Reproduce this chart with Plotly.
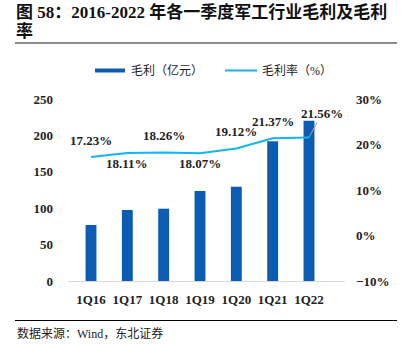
import plotly.graph_objects as go

categories = ["1Q16", "1Q17", "1Q18", "1Q19", "1Q20", "1Q21", "1Q22"]
gross_profit = [77, 97.5, 99.3, 123.6, 129.5, 192, 220]
gross_margin = [17.23, 18.11, 18.26, 18.07, 19.12, 21.37, 21.56]
label_pos = ["above", "below", "above", "below", "above", "above", "leader"]
series_names = ["毛利（亿元）", "毛利率（%）"]

W, H = 403, 344
L, R, T, B = 68, 58, 99, 63
PW, PH = W - L - R, H - T - B

def px(x):
    return (x - L) / PW

def py(y):
    return (H - B - y) / PH

BAR = "#0a5cb4"
LINE = "#13b5ef"
SERIF = "Times New Roman"
CJK = "Times New Roman, Noto Sans CJK SC"

fig = go.Figure()
fig.add_trace(go.Bar(x=categories, y=gross_profit, name=series_names[0], showlegend=False,
                     marker=dict(color=BAR, line=dict(width=0)), width=0.3, yaxis="y"))
fig.add_trace(go.Scatter(x=categories, y=gross_margin, name=series_names[1], showlegend=False,
                         mode="lines", line=dict(color=LINE, width=2), yaxis="y2"))

lab_font = dict(family=SERIF, size=13, color="#222", weight="bold")
annotations = []
for c, v, pos in zip(categories, gross_margin, label_pos):
    txt = f"{v:.2f}%"
    if pos == "above":
        annotations.append(dict(x=c, y=v, xref="x", yref="y2", text=txt, showarrow=False,
                                yshift=17, font=lab_font))
    elif pos == "below":
        annotations.append(dict(x=c, y=v, xref="x", yref="y2", text=txt, showarrow=False,
                                yshift=-10, font=lab_font))
    else:
        annotations.append(dict(x=c, y=v, xref="x", yref="y2", text=txt, showarrow=True,
                                arrowhead=0, arrowwidth=1, arrowcolor="#a6a6a6", ax=13, ay=-24,
                                font=lab_font))

# title
title_font = dict(family=CJK, size=17, color="#111", weight="bold")
annotations.append(dict(xref="paper", yref="paper", x=px(14), y=py(12), xanchor="left", yanchor="middle",
                        text="图 58：2016-2022 年各一季度军工行业毛利及毛利", showarrow=False,
                        height=18, font=title_font))
annotations.append(dict(xref="paper", yref="paper", x=px(14), y=py(31), xanchor="left", yanchor="middle",
                        text="率", showarrow=False, height=18, font=title_font))
# source
annotations.append(dict(xref="paper", yref="paper", x=px(15), y=py(333), xanchor="left", yanchor="middle",
                        text="数据来源：Wind，东北证券", showarrow=False,
                        font=dict(family=CJK, size=12, color="#222")))
# legend text
leg_font = dict(family=CJK, size=12, color="#222")
annotations.append(dict(xref="paper", yref="paper", x=px(129), y=py(70.5), xanchor="left", yanchor="middle",
                        text=series_names[0], showarrow=False, font=leg_font))
annotations.append(dict(xref="paper", yref="paper", x=px(260), y=py(70.5), xanchor="left", yanchor="middle",
                        text=series_names[1], showarrow=False, font=leg_font))

shapes = [
    dict(type="line", xref="paper", yref="paper", x0=px(15), x1=px(397), y0=py(43), y1=py(43),
         line=dict(color="#8c8c8c", width=2)),
    dict(type="line", xref="paper", yref="paper", x0=px(15), x1=px(397), y0=py(320.5), y1=py(320.5),
         line=dict(color="#000000", width=1)),
    # legend symbols
    dict(type="rect", xref="paper", yref="paper", x0=px(95), x1=px(125), y0=py(68.5), y1=py(72.5),
         fillcolor=BAR, line=dict(width=0)),
    dict(type="line", xref="paper", yref="paper", x0=px(225), x1=px(257), y0=py(70.5), y1=py(70.5),
         line=dict(color=LINE, width=2)),
]

tick_font = dict(family=SERIF, size=13, color="#222", weight="bold")
fig.update_layout(
    width=W, height=H,
    margin=dict(l=L, r=R, t=T, b=B, pad=0),
    paper_bgcolor="white", plot_bgcolor="white",
    showlegend=False,
    xaxis=dict(type="category", showgrid=False, showline=True, linecolor="#d9d9d9", linewidth=1,
               ticks="", tickfont=tick_font, ticklabelstandoff=6),
    yaxis=dict(range=[0, 250], dtick=50, showgrid=False, showline=False, zeroline=False, ticks="",
               tickfont=tick_font, ticklabelstandoff=14),
    yaxis2=dict(range=[-10, 30], dtick=10, overlaying="y", side="right", showgrid=False, showline=False,
                zeroline=False, ticks="", ticksuffix="%",
                tickfont=tick_font, ticklabelstandoff=10),
    annotations=annotations,
    shapes=shapes,
)

fig.write_html("out.html")
